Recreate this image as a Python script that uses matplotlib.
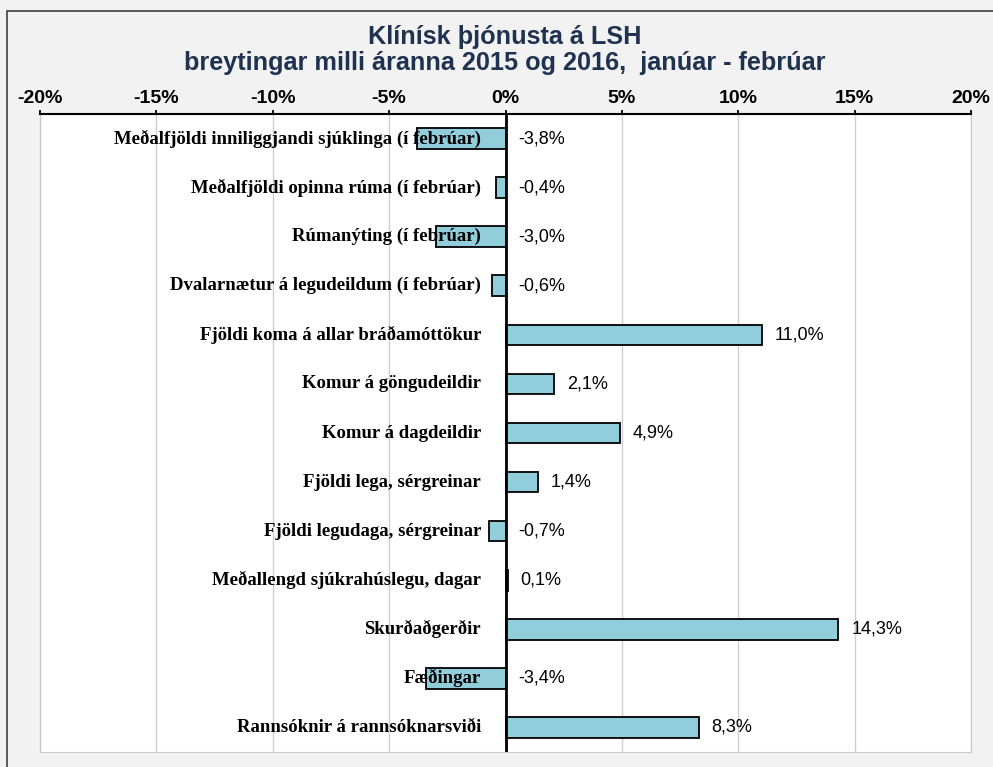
import matplotlib.pyplot as plt
from matplotlib.patches import Rectangle
import numpy as np

categories = [
    'Meðalfjöldi inniliggjandi sjúklinga (í febrúar)',
    'Meðalfjöldi opinna rúma (í febrúar)',
    'Rúmanýting (í febrúar)',
    'Dvalarnætur á legudeildum (í febrúar)',
    'Fjöldi koma á allar bráðamóttökur',
    'Komur á göngudeildir',
    'Komur á dagdeildir',
    'Fjöldi lega, sérgreinar',
    'Fjöldi legudaga, sérgreinar',
    'Meðallengd sjúkrahúslegu, dagar',
    'Skurðaðgerðir',
    'Fæðingar',
    'Rannsóknir á rannsóknarsviði',
]
values = [-3.8, -0.4, -3.0, -0.6, 11.0, 2.1, 4.9, 1.4, -0.7, 0.1, 14.3, -3.4, 8.3]
xticks = [-20, -15, -10, -5, 0, 5, 10, 15, 20]

fig = plt.figure(figsize=(9.93, 7.67), dpi=100, facecolor='#f2f2f2')
ax = fig.add_axes([40/993, 1-752/767, 931/993, 638/767])
ax.set_facecolor('white')

y = np.arange(len(categories))
ax.barh(y, values, height=0.42, color='#92cddc', edgecolor='black', linewidth=1.3, zorder=3)

for yi, v, c in zip(y, values, categories):
    ax.text(-1.05, yi, c, ha='right', va='center', fontsize=13.5, fontweight='bold',
            family='Liberation Serif', zorder=4)
    ax.text(max(v, 0) + 0.55, yi, f'{v:.1f}%'.replace('.', ','), ha='left', va='center',
            fontsize=13, family='Liberation Sans', zorder=4)

ax.set_xlim(-20, 20)
ax.set_ylim(len(categories) - 0.5, -0.5)
ax.set_xticks(xticks)
ax.set_xticklabels([f'{t}%' for t in xticks], fontsize=14, fontweight='bold', family='Liberation Sans')
ax.xaxis.tick_top()
ax.tick_params(axis='x', direction='out', length=3, width=1.3, pad=2)
ax.set_yticks([])
ax.grid(axis='x', color='#d0d0d0', linewidth=1, zorder=0)
ax.axvline(0, color='black', linewidth=2, zorder=5)

for s in ['left', 'right', 'bottom']:
    ax.spines[s].set_color('#c8c8c8')
ax.spines['top'].set_linewidth(1.5)

fig.text(505/993, 1-37/767, 'Klínísk þjónusta á LSH', ha='center', va='center',
         fontsize=18.2, fontweight='bold', color='#1f3250', family='Liberation Sans')
fig.text(505/993, 1-63/767, 'breytingar milli áranna 2015 og 2016,  janúar - febrúar', ha='center',
         va='center', fontsize=18.2, fontweight='bold', color='#1f3250', family='Liberation Sans')

fig.patches.append(Rectangle((7/993, -0.05), 1.2, 1-11/767+0.05, transform=fig.transFigure,
                             fill=False, edgecolor='#404040', linewidth=1.2))

fig.savefig('out.png', dpi=100, facecolor=fig.get_facecolor())
